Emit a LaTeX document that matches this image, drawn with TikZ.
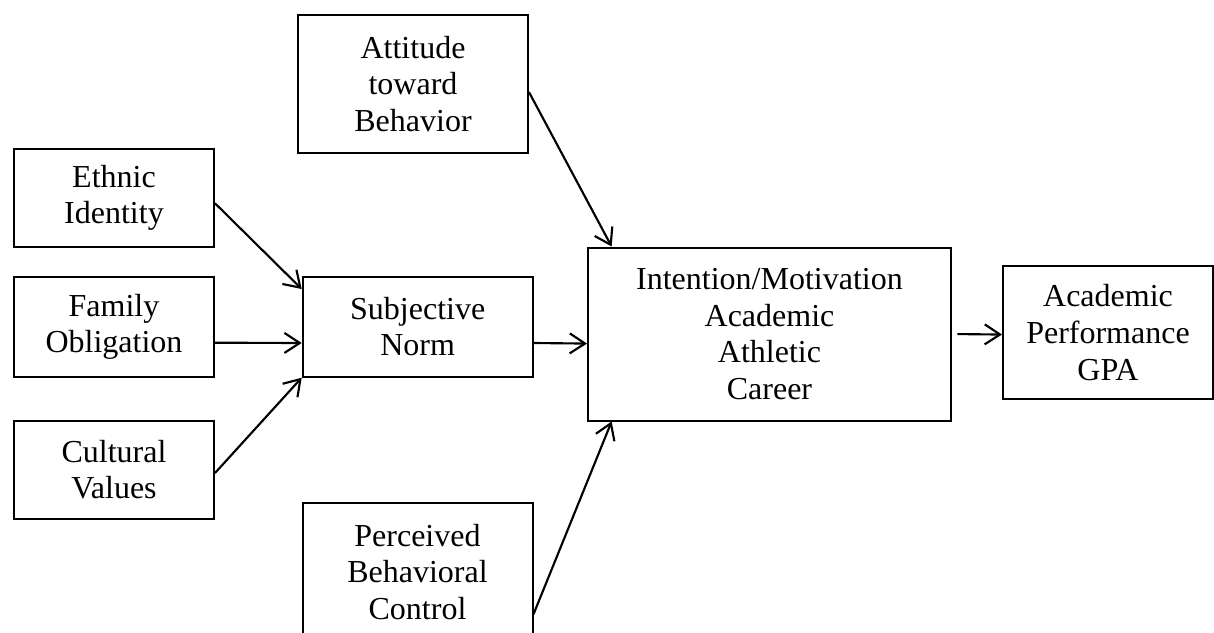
\documentclass[tikz,border=0pt]{standalone}
\usepackage{fontspec}
\setmainfont{Liberation Serif}
\usetikzlibrary{arrows.meta}

\begin{document}
\begin{tikzpicture}[x=0.75pt,y=0.75pt,yscale=-1,xscale=1,
	box/.style={draw, line width=1.5pt, inner sep=0pt, align=center, font=\fontsize{24}{27.5}\selectfont},
	link/.style={line width=1.6pt, -{Straight Barb[length=11.5pt,width=15pt]}}]
	\path[use as bounding box] (0,0) rectangle (1214,632);
	\clip (0,0) rectangle (1214,632);
	
	%Shape: Rectangle [attitude]
	\node[box, minimum width=172.5pt, minimum height=103.5pt] (att) at (413,84) {Attitude\\toward\\Behavior};
	%Shape: Rectangle [ethnic]
	\node[box, minimum width=150pt, minimum height=74pt] (eth) at (114,198) {Ethnic\\Identity};
	%Shape: Rectangle [family]
	\node[box, minimum width=150pt, minimum height=75pt] (fam) at (114,326.7) {Family\\Obligation};
	%Shape: Rectangle [cultural]
	\node[box, minimum width=150pt, minimum height=73.5pt] (cul) at (114,469.5) {Cultural\\Values};
	%Shape: Rectangle [subjective]
	\node[box, minimum width=172.5pt, minimum height=75pt] (sub) at (417.7,326.7) {Subjective\\Norm};
	%Shape: Rectangle [intention]
	\node[box, minimum width=272.25pt, minimum height=129.75pt] (int) at (769.5,334) {Intention/Motivation\\Academic\\Athletic\\Career};
	%Shape: Rectangle [performance]
	\node[box, minimum width=157.5pt, minimum height=99.75pt] (perf) at (1108,332.7) {Academic\\Performance\\GPA};
	%Shape: Rectangle [perceived]
	\node[box, minimum width=172.5pt, minimum height=103.5pt] (per) at (417.5,572) {Perceived\\Behavioral\\Control};
	
	%Straight Lines
	\draw[link] (att.-4) -- (int.151);
	\draw[link] (eth.-3) -- (sub.162);
	\draw[link] (fam.-9) -- (sub.-172);
	\draw[link] (cul.-2) -- (sub.south west);
	\draw[link] (sub.-8) -- (int.183);
	\draw[link] (per.-20) -- (int.-151);
	\draw[link, shorten <=4pt] (int.-0.4) -- (perf.181);
	
\end{tikzpicture}
\end{document}
